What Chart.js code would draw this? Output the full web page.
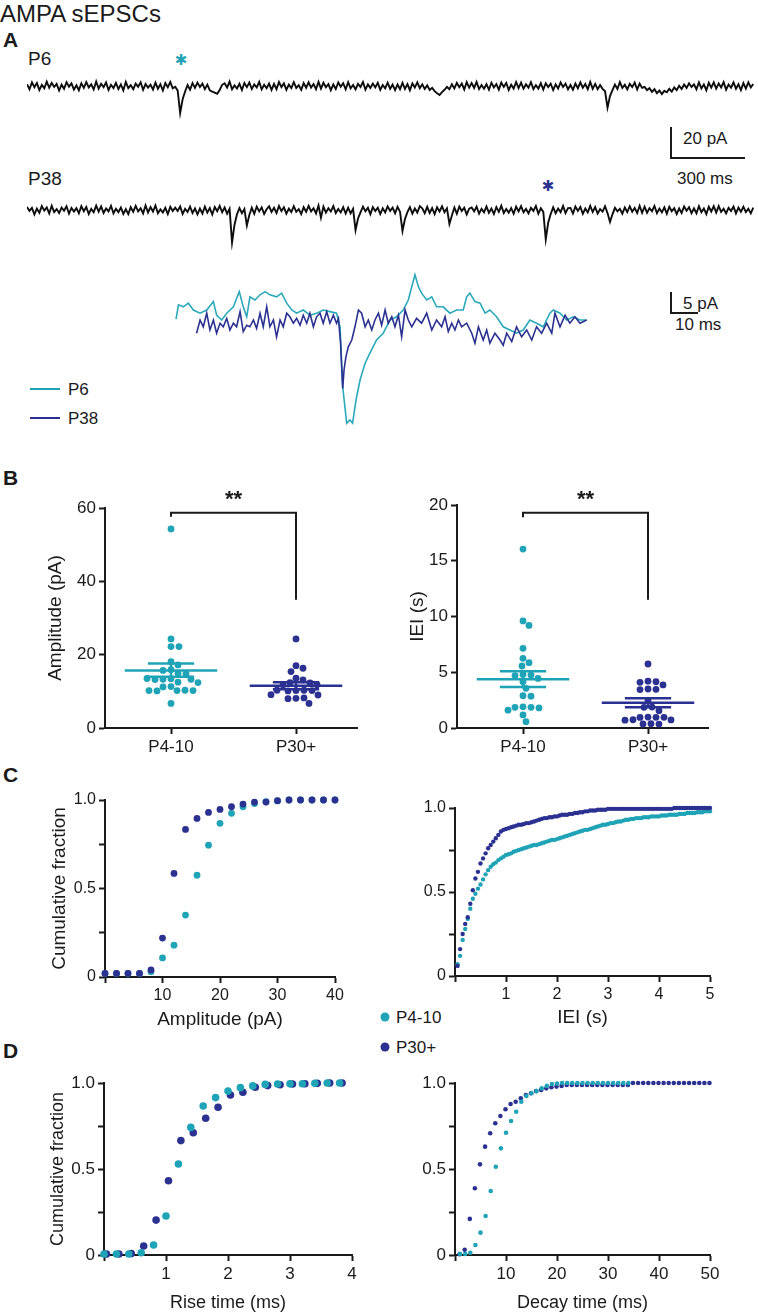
<!DOCTYPE html>
<html>
<head>
<meta charset="utf-8">
<script src="https://cdn.jsdelivr.net/npm/chart.js@4.4.1/dist/chart.umd.min.js"></script>
<style>
  body { margin: 0; background: #fff; font-family: "Liberation Sans", Arial, Helvetica, sans-serif; color: #1a1a1a; }
  #fig { position: relative; width: 758px; height: 1315px; overflow: hidden; background: #fff; }
  .t { position: absolute; line-height: 1; white-space: nowrap; }
  .b { font-weight: bold; }
  .bar { position: absolute; background: #1a1a1a; }
  .star { position: absolute; line-height: 1; font-family: "DejaVu Sans", sans-serif; font-size: 15px; transform: translate(-50%, -50%); }
  .dot { position: absolute; width: 9px; height: 9px; border-radius: 50%; transform: translate(-50%, -50%); }
  canvas { position: absolute; }
</style>
</head>
<body>
<div id="fig">
  <div class="t" style="left:0;top:2px;font-size:24px">AMPA sEPSCs</div>
  <div class="t b" style="left:3px;top:29px;font-size:21px">A</div>
  <div class="t" style="left:28px;top:49px;font-size:19px">P6</div>
  <div class="t" style="left:28px;top:169px;font-size:19px">P38</div>
  <div class="star" style="left:181px;top:60px;color:#1fa3b6">&#x2731;</div>
  <div class="star" style="left:548px;top:186px;color:#2b3190">&#x2731;</div>

  <div class="bar" style="left:670px;top:127px;width:2px;height:32px"></div>
  <div class="bar" style="left:670px;top:157px;width:75px;height:2px"></div>
  <div class="t" style="left:683px;top:130px;font-size:17px">20 pA</div>
  <div class="t" style="left:677px;top:170px;font-size:17px">300 ms</div>

  <div class="bar" style="left:670px;top:292px;width:2px;height:22px"></div>
  <div class="bar" style="left:670px;top:312px;width:28px;height:2px"></div>
  <div class="t" style="left:683px;top:295px;font-size:17px">5 pA</div>
  <div class="t" style="left:675px;top:316px;font-size:17px">10 ms</div>

  <div class="bar" style="left:30px;top:388px;width:30px;height:2px;background:#1fa3b6"></div>
  <div class="t" style="left:68px;top:381px;font-size:17px">P6</div>
  <div class="bar" style="left:30px;top:417px;width:30px;height:2px;background:#2b3190"></div>
  <div class="t" style="left:68px;top:410px;font-size:17px">P38</div>

  <div class="t b" style="left:3px;top:467px;font-size:21px">B</div>
  <div class="t b" style="left:3px;top:764px;font-size:21px">C</div>
  <div class="t b" style="left:3px;top:1040px;font-size:21px">D</div>

  <div class="dot" style="left:385px;top:1017px;background:#1fa3b6"></div>
  <div class="t" style="left:396px;top:1009px;font-size:17px">P4-10</div>
  <div class="dot" style="left:385px;top:1047px;background:#2b3190"></div>
  <div class="t" style="left:396px;top:1039px;font-size:17px">P30+</div>
</div>
<script>
// ---- Panel A: example traces (pA), one sample every 10 ms ----
const longSampleMs = 10;
const p6Long = [
  1.2, -2.1, 2.4, -0.8, 1.9, -2.6, 0.7, -1.5, 2.8, -1.1,
  2.0, -0.6, 1.4, -2.9, 0.9, -1.8, 2.5, -0.4, 1.7, -2.3,
  0.5, -2.7, 1.8, -1.2, 2.6, -0.9, 1.1, -2.2, 2.9, -1.6,
  1.5, -0.7, 2.3, -2.5, 0.8, -1.3, 2.1, -1.9, 1.0, -2.8,
  2.7, -1.4, 0.6, -2.0, 1.6, -0.5, 2.4, -2.4, 1.3, -1.0,
  0.9, -2.3, 2.2, -1.7, 1.2, -2.9, 1.9, -0.8, 2.6, -1.5,
  -0.5, -3.0, -17.4, -8.5, -3.5, 0.6, -2.4, 1.9, -1.2, 2.2,
  -0.6, 1.5, -2.0, 0.9, -2.8, -3.6, -4.2, -5.0, -2.5, 0.8,
  1.8, -1.0, 2.9, -2.1, 0.4, -1.6, 1.4, -2.6, 2.0, -0.7,
  2.3, -1.9, 1.0, -0.9, 2.7, -2.2, 0.8, -1.4, 1.6, -2.5,
  1.4, -2.0, 2.6, -0.7, 1.7, -2.4, 0.9, -1.3, 2.5, -1.2,
  0.6, -2.5, 1.9, -1.1, 2.4, -1.0, 1.3, -2.0, 2.7, -1.7,
  2.1, -0.8, 1.2, -2.7, 1.0, -1.9, 2.3, -0.5, 1.8, -2.1,
  2.5, -1.5, 0.7, -2.2, 1.4, -0.6, 2.6, -2.3, 1.1, -1.2,
  1.6, -0.9, 2.1, -2.4, 0.7, -1.5, 2.2, -1.8, 0.9, -2.6,
  1.0, -2.1, 2.0, -1.9, 1.3, -2.7, 1.7, -1.0, 2.4, -1.4,
  1.1, -1.9, 0.4, -2.6, -1.2, -3.3, -4.6, -5.8, -3.9, -2.4,
  -0.6, -2.1, 1.2, -1.5, 2.0, -0.8, 1.6, -2.2, 2.5, -1.0,
  1.9, -1.2, 2.7, -2.0, 0.6, -1.7, 1.2, -2.4, 2.1, -0.9,
  1.3, -2.3, 2.2, -0.6, 2.0, -2.5, 0.9, -1.6, 2.6, -1.3,
  2.2, -1.7, 1.1, -1.0, 2.5, -2.0, 0.6, -1.6, 1.8, -2.3,
  1.8, -0.7, 1.5, -2.6, 1.1, -1.6, 2.3, -0.6, 1.5, -2.1,
  0.7, -2.4, 1.6, -1.4, 2.4, -1.1, 1.3, -2.0, 2.7, -1.8,
  1.4, -2.0, 0.6, -1.8, -3.4, -14.0, -6.5, -2.7, 0.9, -1.9,
  2.5, -1.2, 0.8, -2.2, 1.4, -0.7, 2.2, -2.2, 1.5, -1.2,
  -0.5, -2.6, -1.4, -3.8, -2.0, -4.6, -2.9, -5.2, -3.1, -4.0,
  -1.8, -3.6, -0.9, -2.7, 0.2, -1.9, 1.0, -1.2, 1.8, -0.6,
  1.1, -2.1, 2.4, -1.5, 1.0, -2.7, 2.1, -1.0, 2.4, -1.7,
  1.7, -0.9, 2.5, -2.3, 1.0, -1.1, 2.3, -1.7, 1.2, -2.6,
  1.9, -1.6, 2.4, -0.9, 1.3
];
const p38Long = [
  2.0, -0.6, 1.4, -2.9, 0.9, -1.8, 2.5, -0.4, 1.7, -2.3,
  2.7, -1.4, 0.6, -2.0, 1.6, -0.5, 2.4, -2.4, 1.3, -1.0,
  1.2, -2.1, 2.4, -0.8, 1.9, -2.6, 0.7, -1.5, 2.8, -1.1,
  2.3, -1.9, 1.0, -0.9, 2.7, -2.2, 0.8, -1.4, 1.6, -2.5,
  0.5, -2.7, 1.8, -1.2, 2.6, -0.9, 1.1, -2.2, 2.9, -1.6,
  1.8, -1.0, 2.9, -2.1, 0.4, -1.6, 1.4, -2.6, 2.0, -0.7,
  1.5, -0.7, 2.3, -2.5, 0.8, -1.3, 2.1, -1.9, 1.0, -2.8,
  0.9, -2.3, 2.2, -1.7, 1.2, -2.9, 1.9, -0.8, 2.6, -1.5,
  1.6, -2.4, 0.8, -21.0, -9.5, -2.8, 1.2, -2.1, 0.6, -10.0,
  -3.2, 1.4, -2.5, 2.2, -0.9, 1.7, -2.6, 0.5, 2.4, -1.3,
  1.4, -2.0, 2.6, -0.7, 1.7, -2.4, 0.9, -1.3, 2.5, -1.2,
  0.5, -2.7, 1.8, -1.2, 2.6, -0.9, 1.1, -2.2, 2.9, -5.0,
  2.2, -1.7, 1.1, -1.0, 2.5, -2.0, 0.6, -1.6, 1.8, -2.3,
  1.5, -2.2, 0.7, -13.0, -5.5, -1.6, 2.1, -0.8, 1.4, -2.7,
  1.8, -0.7, 1.5, -2.6, 1.1, -1.6, 2.3, -0.6, 1.5, -2.1,
  2.0, -1.1, -13.5, -5.8, -1.4, 1.9, -2.3, 0.9, -1.7, 2.5,
  1.0, -2.1, 2.0, -1.9, 1.3, -2.7, 1.7, -1.0, 2.4, -1.4,
  1.1, -9.0, -3.6, 1.6, -2.4, 2.2, -0.7, 1.5, -2.9, 0.8,
  1.6, -0.9, 2.1, -2.4, 0.7, -1.5, 2.2, -1.8, 0.9, -2.6,
  1.9, -1.2, 2.7, -2.0, 0.6, -1.7, 1.2, -2.4, 2.1, -0.9,
  2.5, -1.5, 0.7, -2.2, 1.4, -0.6, 2.6, -2.3, 1.1, -1.2,
  -19.0, -8.0, -2.6, 1.7, -2.1, 0.9, -1.4, 2.6, -2.0, 1.2,
  1.3, -2.3, 2.2, -0.6, 2.0, -2.5, 0.9, -1.6, 2.6, -1.3,
  1.8, -2.3, 0.6, -1.1, 2.4, -2.0, -7.7, -2.8, 1.4, -0.9,
  0.7, -2.4, 1.6, -1.4, 2.4, -1.1, 1.3, -2.0, 2.7, -1.8,
  2.1, -1.8, 1.2, -0.8, 2.6, -2.1, 0.9, -1.5, 1.7, -2.4,
  2.1, -0.8, 1.2, -2.7, 1.0, -1.9, 2.3, -0.5, 1.8, -2.1,
  1.1, -2.1, 2.4, -1.5, 1.0, -2.7, 2.1, -1.0, 2.4, -1.7,
  2.5, -1.2, 0.8, -2.2, 1.4, -0.7, 2.2, -2.2, 1.5, -1.2,
  2.1, -1.4, 0.8, -2.2, 1.5
];
const p6ZoomMs = [0.4, 1.3, 3.1, 5.0, 6.9, 9.4, 11.9, 14.4, 15.6, 17.5, 19.4, 21.9, 24.1, 25.6, 26.9, 28.1, 30.0, 31.9, 33.8, 35.6,
  38.1, 40.0, 41.9, 43.8, 45.6, 48.1, 50.6, 53.1, 55.6, 58.1, 60.6, 61.9, 62.9, 64.4, 65.6, 66.6, 67.9, 69.4, 71.3, 73.1,
  75.6, 78.1, 80.6, 83.1, 85.6, 87.5, 88.8, 90.0, 91.3, 92.5, 94.4, 96.3, 98.1, 100.6, 103.1, 105.6, 108.1, 109.4, 110.6, 112.5,
  114.4, 116.3, 118.1, 120.6, 123.1, 125.6, 128.1, 130.6, 133.1, 135.6, 138.1, 140.6, 141.9, 144.4, 146.9, 149.4, 151.9, 154.4];
const p6ZoomPa = [-2.3, 1.3, 0.8, 1.7, 0, -0.8, 0, 2.1, -1.3, -2.5, -0.8, 0.8, 4.6, 0.8, -1.7, 3.3, 2.5, 3.8, 4.6, 3.8,
  3.3, 4.2, 1.7, 0, -0.8, 0, -1.3, -0.8, 0, -0.4, -0.8, -4.2, -19.2, -28.3, -27.5, -28.3, -22.5, -17.5, -13.3, -10.8,
  -7.5, -5.8, -2.5, -1.7, 0, 2.5, 5.8, 8.8, 5.8, 4.2, 2.5, 3.3, 0.8, 0.8, -0.8, 0, 0, 3.3, 4.2, 2.1,
  1.7, -0.8, 0, -1.7, -4.2, -5, -5.8, -5, -2.5, -3.3, -4.2, -0.8, 0, -0.8, -2.5, -1.7, -2.5, -2.5];
const p38ZoomMs = [8.1, 9.4, 10.6, 11.9, 13.1, 14.4, 15.6, 16.9, 18.1, 19.4, 20.6, 21.9, 23.1, 24.4, 25.6, 26.9, 28.1, 29.4, 30.6, 31.9,
  33.1, 34.4, 35.6, 36.9, 38.1, 39.4, 40.6, 41.9, 43.1, 44.4, 45.6, 46.9, 48.1, 49.4, 50.6, 51.9, 53.1, 54.4, 55.6, 56.9,
  58.1, 59.4, 60.6, 61.3, 62.1, 62.5, 62.9, 63.4, 64.1, 65.0, 66.3, 67.5, 68.8, 70.0, 71.3, 72.5, 73.8, 75.0, 76.3, 77.5,
  78.8, 80.0, 81.3, 82.5, 83.8, 85.0, 86.3, 87.5, 88.8, 90.6, 92.5, 94.4, 96.3, 98.1, 100.0, 101.3, 102.5, 103.8, 105.0, 106.3,
  107.5, 109.4, 111.3, 112.5, 113.8, 115.6, 116.9, 118.1, 120.0, 121.9, 123.1, 124.4, 126.3, 128.1, 130.0, 131.9, 133.8, 135.6, 137.5, 139.4,
  141.3, 142.5, 144.4, 146.3, 148.1, 150.0, 151.9, 154.4];
const p38ZoomPa = [-5.8, -2.5, -4.2, -0.8, -5, -2.5, -5.8, -3.3, -4.2, -2.1, -5, -3.3, -4.2, -0.4, -5.4, -3.8, -4.2, -2.5, -4.6, -0.8,
  -4.2, 0.8, -4.2, -2.5, -6.7, -2.5, -4.2, -0.8, -1.7, -3.3, -2.1, -3.8, -1.3, -3.3, -0.8, -4.2, -1.7, -0.8, -3.3, -0.4,
  -3.3, -1.3, -3.3, -2.1, -8.3, -14.2, -19.6, -15, -11.7, -9.2, -7.5, -4.2, 0, -0.8, -4.2, -2.5, -5, -2.5, -0.8, -3.8,
  0, -3.3, -1.7, -4.2, -1.3, -6.7, 0, -2.5, -4.2, -2.1, -3.3, -0.8, -5, -2.5, -4.2, -1.7, -5.4, -3.3, -5, -2.5,
  -4.2, -3.3, -5.8, -8.3, -4.2, -7.5, -5, -8.3, -5.8, -7.5, -8.8, -5.8, -7.9, -4.2, -6.7, -5, -7.5, -4.2, -5.8, -3.3,
  -5.8, -0.8, -4.2, -1.3, -3.3, -1.7, -3.3, -2.5];

// ---- Panel B: per-cell values ----
const groups = ['P4-10', 'P30+'];
const ampYoung = [54.3, 24.3, 22.2, 22.2, 18.1, 17.2, 15.9, 15.7, 14.9, 14.8, 13.4, 13.3, 13.2, 13.3, 13.5, 12.5, 12.4,
  11.3, 11.2, 10.2, 10.3, 10.1, 10.2, 10.2, 6.7];
const ampOld = [24.3, 17.0, 16.3, 15.4, 13.6, 13.1, 12.4, 12.3, 11.7, 11.8, 10.2, 10.3, 10.1, 10.2, 10.3, 9.0, 9.1,
  8.1, 8.2, 8.0, 6.7];
const ampMean = [15.7, 11.5];
const ampSemHi = [17.6, 12.5];
const ampSemLo = [14.0, 10.6];
const ampBracket = [57.6, 58.7, 35.0];
const ieiYoung = [16.05, 9.6, 9.2, 7.15, 6.25, 5.86, 5.56, 4.8, 4.75, 4.7, 4.45, 4.15, 3.56, 2.9, 2.85, 1.9, 1.85,
  1.85, 1.8, 1.6, 1.17, 0.57];
const ieiOld = [5.74, 4.2, 4.15, 4.1, 3.86, 3.5, 3.47, 3.45, 2.45, 1.88, 1.85, 1.55, 0.98, 0.96, 0.95, 0.96, 0.74,
  0.72, 0.7, 0.38, 0.36, 0.35];
const ieiMean = [4.37, 2.27];
const ieiSemHi = [5.1, 2.66];
const ieiSemLo = [3.67, 1.85];
const ieiBracket = [18.9, 19.3, 11.5];

// ---- Panel C: cumulative distributions ----
const ampBins = [0, 2, 4, 6, 8, 10, 12, 14, 16, 18, 20, 22, 24, 26, 28, 30, 32, 34, 36, 38, 40];
const ampCdfYoung = [0.02, 0.02, 0.02, 0.02, 0.03, 0.108, 0.18, 0.35, 0.575, 0.745, 0.868, 0.925, 0.962, 0.98, 0.99,
  0.995, 1, 1, 1, 1, 1];
const ampCdfOld = [0.02, 0.02, 0.02, 0.02, 0.04, 0.22, 0.585, 0.834, 0.896, 0.93, 0.947, 0.962, 0.977, 0.988, 0.988,
  0.996, 1, 1, 1, 1, 1];
const ieiBins = [
  0.05, 0.10, 0.15, 0.20, 0.25, 0.30, 0.35, 0.40, 0.45, 0.50,
  0.55, 0.60, 0.65, 0.70, 0.75, 0.80, 0.85, 0.90, 0.95, 1.00,
  1.05, 1.10, 1.15, 1.20, 1.25, 1.30, 1.35, 1.40, 1.45, 1.50,
  1.55, 1.60, 1.65, 1.70, 1.75, 1.80, 1.85, 1.90, 1.95, 2.00,
  2.05, 2.10, 2.15, 2.20, 2.25, 2.30, 2.35, 2.40, 2.45, 2.50,
  2.55, 2.60, 2.65, 2.70, 2.75, 2.80, 2.85, 2.90, 2.95, 3.00,
  3.05, 3.10, 3.15, 3.20, 3.25, 3.30, 3.35, 3.40, 3.45, 3.50,
  3.55, 3.60, 3.65, 3.70, 3.75, 3.80, 3.85, 3.90, 3.95, 4.00,
  4.05, 4.10, 4.15, 4.20, 4.25, 4.30, 4.35, 4.40, 4.45, 4.50,
  4.55, 4.60, 4.65, 4.70, 4.75, 4.80, 4.85, 4.90, 4.95, 5.00
];
const ieiCdfYoung = [
  0.07, 0.12, 0.215, 0.28, 0.34, 0.40, 0.46, 0.49, 0.52, 0.545,
  0.575, 0.605, 0.63, 0.65, 0.665, 0.675, 0.69, 0.70, 0.71, 0.72,
  0.725, 0.73, 0.74, 0.745, 0.75, 0.755, 0.76, 0.765, 0.77, 0.775,
  0.78, 0.78, 0.785, 0.79, 0.795, 0.80, 0.805, 0.81, 0.81, 0.815,
  0.82, 0.825, 0.83, 0.835, 0.84, 0.845, 0.85, 0.855, 0.86, 0.865,
  0.87, 0.87, 0.875, 0.88, 0.885, 0.89, 0.895, 0.90, 0.90, 0.905,
  0.91, 0.91, 0.915, 0.92, 0.92, 0.925, 0.93, 0.93, 0.935, 0.935,
  0.94, 0.94, 0.94, 0.945, 0.945, 0.945, 0.95, 0.95, 0.95, 0.95,
  0.955, 0.955, 0.955, 0.96, 0.96, 0.96, 0.96, 0.965, 0.965, 0.965,
  0.97, 0.97, 0.97, 0.97, 0.975, 0.975, 0.975, 0.98, 0.98, 0.98
];
const ieiCdfOld = [
  0.06, 0.16, 0.25, 0.31, 0.35, 0.43, 0.51, 0.58, 0.62, 0.67,
  0.70, 0.73, 0.76, 0.78, 0.80, 0.82, 0.84, 0.86, 0.87, 0.875,
  0.88, 0.885, 0.89, 0.895, 0.90, 0.90, 0.905, 0.91, 0.91, 0.915,
  0.92, 0.925, 0.93, 0.935, 0.94, 0.94, 0.945, 0.945, 0.95, 0.95,
  0.955, 0.96, 0.96, 0.96, 0.965, 0.965, 0.97, 0.97, 0.975, 0.975,
  0.98, 0.98, 0.985, 0.985, 0.985, 0.99, 0.99, 0.99, 0.99, 0.995,
  0.995, 0.995, 0.995, 0.995, 0.995, 0.995, 0.995, 0.995, 0.995, 0.995,
  0.995, 0.995, 0.995, 0.995, 0.995, 0.995, 0.995, 0.995, 0.995, 0.995,
  0.995, 0.995, 0.995, 0.995, 0.995, 1, 1, 1, 1, 1,
  1, 1, 1, 1, 1, 1, 1, 1, 1, 1
];

// ---- Panel D: kinetics cumulative distributions ----
const riseBinsYoung = [0.0, 0.2, 0.4, 0.6, 0.8, 1.0, 1.2, 1.4, 1.6, 1.8, 2.0, 2.2, 2.4, 2.6, 2.8, 3.0, 3.2, 3.4, 3.6, 3.8];
const riseCdfYoung = [0.006, 0.006, 0.006, 0.013, 0.058, 0.227, 0.529, 0.742, 0.866, 0.915, 0.953, 0.973, 0.983, 0.992,
  0.994, 0.995, 0.996, 0.998, 1, 1];
const riseBinsOld = [0.04, 0.24, 0.44, 0.64, 0.84, 1.04, 1.24, 1.44, 1.64, 1.84, 2.04, 2.24, 2.44, 2.64, 2.84, 3.04, 3.24, 3.44, 3.64, 3.84];
const riseCdfOld = [0.006, 0.006, 0.008, 0.052, 0.203, 0.432, 0.665, 0.711, 0.795, 0.859, 0.93, 0.946, 0.975, 0.985,
  0.99, 0.994, 0.996, 0.998, 1, 1];
const decayBinsYoung = [1, 2, 3, 4, 5, 6, 7, 8, 9, 10, 11, 12, 13, 14, 15, 16, 17, 18, 19, 20, 21, 22, 23, 24, 25, 26, 27, 28, 29, 30, 31, 32, 33, 34];
const decayCdfYoung = [0.006, 0.006, 0.013, 0.058, 0.13, 0.227, 0.372, 0.513, 0.62, 0.711, 0.779, 0.833, 0.891, 0.924,
  0.94, 0.953, 0.969, 0.983, 0.994, 0.997, 1, 1, 1, 1, 1, 1, 1, 1, 1, 1, 1, 1, 1, 1];
const decayBinsOld = [0.9, 1.9, 2.9, 3.9, 4.9, 5.9, 6.9, 7.9, 8.9, 9.9, 10.9, 11.9, 12.9, 13.9, 14.9, 15.9, 16.9, 17.9,
  18.9, 19.9, 20.9, 21.9, 22.9, 23.9, 24.9, 25.9, 26.9, 27.9, 28.9, 29.9, 30.9, 31.9, 32.9, 33.9, 34.9, 35.9, 36.9, 37.9,
  38.9, 39.9, 40.9, 41.9, 42.9, 43.9, 44.9, 45.9, 46.9, 47.9, 48.9, 49.9, 50.9];
const decayCdfOld = [0.005, 0.03, 0.21, 0.388, 0.527, 0.63, 0.708, 0.766, 0.808, 0.847, 0.878, 0.891, 0.911, 0.93,
  0.94, 0.953, 0.96, 0.969, 0.975, 0.979, 0.983, 0.988, 0.988, 0.988, 0.988, 0.988, 0.988, 0.988, 0.988, 0.988, 0.988,
  0.988, 0.988, 0.988, 1, 1, 1, 1, 1, 1, 1, 1, 1, 1, 1, 1, 1, 1, 1, 1, 1];

const cdfTicks = [0, 0.25, 0.5, 0.75, 1];
const cdfLabels = ['0', '', '0.5', '', '1.0'];

// ---- drawing ----
const FONT = '"Liberation Sans", Arial, Helvetica, sans-serif';
const INK = '#1a1a1a';
const CYAN = '#1fa3b6';
const NAVY = '#2b3190';
Chart.defaults.font.family = FONT;
Chart.defaults.color = INK;

const fig = document.getElementById('fig');

// place a canvas so that the chart area lands on the given box
function placeChart(area, pad, config) {
  const left = Math.round(area.l - pad.l);
  const top = Math.round(area.t - pad.t);
  const right = Math.round(area.r + pad.r);
  const bottom = Math.round(area.b + pad.b);
  const canvas = document.createElement('canvas');
  canvas.width = right - left;
  canvas.height = bottom - top;
  canvas.style.left = left + 'px';
  canvas.style.top = top + 'px';
  canvas.style.width = (right - left) + 'px';
  canvas.style.height = (bottom - top) + 'px';
  fig.appendChild(canvas);
  const o = config.options;
  o.responsive = false;
  o.animation = false;
  o.events = [];
  o.layout = { padding: { left: 0, top: area.t - top, right: right - area.r, bottom: 0 } };
  if (o.scales.x.display !== false) o.scales.x.afterFit = (s) => { s.height = bottom - area.b; };
  if (o.scales.y.display !== false) o.scales.y.afterFit = (s) => { s.width = area.l - left; };
  o.plugins = Object.assign({ legend: { display: false }, tooltip: { enabled: false } }, o.plugins || {});
  return new Chart(canvas, config);
}

function axis(a) {
  return {
    type: 'linear',
    position: a.position,
    min: a.min,
    max: a.max,
    border: { display: true, color: INK, width: 2 },
    grid: { display: true, drawOnChartArea: false, drawTicks: true, tickLength: 6, tickWidth: 2, color: INK },
    afterBuildTicks: (s) => { s.ticks = a.ticks.map((v) => ({ value: v })); },
    ticks: {
      autoSkip: false,
      maxRotation: 0,
      padding: 3,
      color: INK,
      font: { family: FONT, size: a.size },
      callback: (v) => { const i = a.ticks.indexOf(v); return i < 0 ? '' : a.labels[i]; },
    },
    title: a.title
      ? { display: true, text: a.title, color: INK, font: { family: FONT, size: a.titleSize }, padding: 0 }
      : { display: false },
  };
}

function traceChart(area, series, xr, yr) {
  return placeChart(area, { l: 0, t: 0, r: 0, b: 0 }, {
    type: 'scatter',
    data: {
      datasets: series.map((s) => ({
        data: s.x.map((x, i) => ({ x, y: s.y[i] })),
        showLine: true, borderColor: s.color, borderWidth: s.width, pointRadius: 0, clip: false,
      })),
    },
    options: { scales: { x: { display: false, min: xr[0], max: xr[1] }, y: { display: false, min: yr[0], max: yr[1] } } },
  });
}

// Panel A
const longTimes = p6Long.map((_, i) => i * longSampleMs);
traceChart({ l: 27, r: 755, t: 60, b: 122 }, [{ x: longTimes, y: p6Long, color: '#0d0d0d', width: 1.9 }], [0, 2947], [-23.2, 16.8]);
traceChart({ l: 27, r: 755, t: 185, b: 250 }, [{ x: longTimes, y: p38Long, color: '#0d0d0d', width: 1.9 }], [0, 2947], [-25.8, 16.1]);
traceChart({ l: 170, r: 600, t: 265, b: 435 }, [
  { x: p38ZoomMs, y: p38ZoomPa, color: NAVY, width: 1.6 },
  { x: p6ZoomMs, y: p6ZoomPa, color: '#2aa9ba', width: 1.6 },
], [-1.875, 159.4], [-31.25, 11.25]);

// Panel B
const starsPlugin = {
  id: 'stars',
  afterDatasetsDraw(chart, args, opts) {
    const { ctx, scales } = chart;
    ctx.save();
    ctx.font = 'bold 22px ' + FONT;
    ctx.fillStyle = INK;
    ctx.textAlign = 'center';
    ctx.fillText(opts.text, scales.x.getPixelForValue(1.5), scales.y.getPixelForValue(opts.y) - 7);
    ctx.restore();
  },
};

// simple bee-swarm: nudge each dot sideways until it no longer overlaps
function swarm(chart, values, center, gap) {
  const xs = chart.scales.x;
  const ys = chart.scales.y;
  const pxPerUnit = xs.getPixelForValue(center + 1) - xs.getPixelForValue(center);
  const placed = [];
  return values.map((v) => {
    const py = ys.getPixelForValue(v);
    let off = 0;
    for (let k = 0; k < 400; k++) {
      const cand = k === 0 ? 0 : (k % 2 ? 1 : -1) * Math.ceil(k / 2);
      if (placed.every((p) => Math.hypot(p.x - cand, p.y - py) >= gap)) { off = cand; break; }
    }
    placed.push({ x: off, y: py });
    return { x: center + off / pxPerUnit, y: v };
  });
}

function groupChart(area, pad, xMax, values, mean, hi, lo, bracket, yAxis) {
  const datasets = [];
  [0, 1].forEach((g) => {
    const c = g + 1;
    const color = g ? NAVY : CYAN;
    const seg = (x0, x1, y0, y1) => datasets.push({
      data: [{ x: x0, y: y0 }, { x: x1, y: y1 }],
      showLine: true, borderColor: color, borderWidth: 2.5, pointRadius: 0, clip: false,
    });
    seg(c - 0.37, c + 0.37, mean[g], mean[g]);
    seg(c - 0.185, c + 0.185, hi[g], hi[g]);
    seg(c - 0.185, c + 0.185, lo[g], lo[g]);
    seg(c, c, lo[g], hi[g]);
  });
  datasets.push({
    data: [{ x: 1, y: bracket[0] }, { x: 1, y: bracket[1] }, { x: 2, y: bracket[1] }, { x: 2, y: bracket[2] }],
    showLine: true, borderColor: INK, borderWidth: 2, pointRadius: 0, clip: false,
  });
  const first = datasets.length;
  values.forEach((vals, g) => datasets.push({
    data: vals.map((v) => ({ x: g + 1, y: v })),
    backgroundColor: g ? NAVY : CYAN, pointRadius: 3.4, pointBorderWidth: 0, clip: false,
  }));
  const chart = placeChart(area, pad, {
    type: 'scatter',
    data: { datasets },
    options: {
      scales: {
        x: axis({ position: 'bottom', min: 0.472, max: xMax, ticks: [1, 2], labels: groups, size: 17 }),
        y: axis(yAxis),
      },
      plugins: { stars: { text: '**', y: bracket[1] } },
    },
    plugins: [starsPlugin],
  });
  values.forEach((vals, g) => { chart.data.datasets[first + g].data = swarm(chart, vals, g + 1, 7.2); });
  chart.update();
  return chart;
}

groupChart({ l: 105, r: 357, t: 508, b: 728 }, { l: 61, t: 42, r: 15, b: 40 }, 2.488,
  [ampYoung, ampOld], ampMean, ampSemHi, ampSemLo, ampBracket,
  { position: 'left', min: 0, max: 60, ticks: [0, 20, 40, 60], labels: ['0', '20', '40', '60'], size: 17,
    title: 'Amplitude (pA)', titleSize: 19 });
groupChart({ l: 457, r: 708, t: 505, b: 728 }, { l: 51, t: 40, r: 15, b: 40 }, 2.48,
  [ieiYoung, ieiOld], ieiMean, ieiSemHi, ieiSemLo, ieiBracket,
  { position: 'left', min: 0, max: 20, ticks: [0, 5, 10, 15, 20], labels: ['0', '5', '10', '15', '20'], size: 17,
    title: 'IEI (s)', titleSize: 19 });

// Panels C and D
function cdfChart(area, pad, series, xAxis, yTitle, fontSize, titleSize) {
  return placeChart(area, pad, {
    type: 'scatter',
    data: {
      datasets: series.map((s) => ({
        data: s.x.map((x, i) => ({ x, y: s.y[i] })),
        backgroundColor: s.color, pointRadius: s.r, pointBorderWidth: 0, clip: false,
      })),
    },
    options: {
      scales: {
        x: axis(Object.assign({ position: 'bottom', size: fontSize, titleSize }, xAxis)),
        y: axis({ position: 'left', min: 0, max: 1, ticks: cdfTicks, labels: cdfLabels, size: fontSize,
          title: yTitle, titleSize }),
      },
    },
  });
}

cdfChart({ l: 105, r: 335, t: 800, b: 977 }, { l: 57.4, t: 20, r: 15, b: 54.4 }, [
  { x: ampBins, y: ampCdfOld, color: NAVY, r: 3.4 },
  { x: ampBins, y: ampCdfYoung, color: CYAN, r: 3.4 },
], { min: 0, max: 40, ticks: [0, 10, 20, 30, 40], labels: ['', '10', '20', '30', '40'], title: 'Amplitude (pA)' },
'Cumulative fraction', 16, 19);

cdfChart({ l: 455, r: 710, t: 808, b: 976 }, { l: 50, t: 20, r: 15, b: 53.4 }, [
  { x: ieiBins, y: ieiCdfOld, color: NAVY, r: 2.2 },
  { x: ieiBins, y: ieiCdfYoung, color: CYAN, r: 2.2 },
], { min: 0, max: 5, ticks: [0, 1, 2, 3, 4, 5], labels: ['', '1', '2', '3', '4', '5'], title: 'IEI (s)' },
null, 16, 19);

cdfChart({ l: 104, r: 352, t: 1083, b: 1255 }, { l: 56.8, t: 20, r: 15, b: 58.8 }, [
  { x: riseBinsYoung, y: riseCdfYoung, color: CYAN, r: 3.8 },
  { x: riseBinsOld, y: riseCdfOld, color: NAVY, r: 3.8 },
], { min: 0, max: 4, ticks: [0, 1, 2, 3, 4], labels: ['', '1', '2', '3', '4'], title: 'Rise time (ms)' },
'Cumulative fraction', 17, 18);

cdfChart({ l: 455, r: 710, t: 1083, b: 1255 }, { l: 50, t: 20, r: 15, b: 58.8 }, [
  { x: decayBinsYoung, y: decayCdfYoung, color: CYAN, r: 2.3 },
  { x: decayBinsOld, y: decayCdfOld, color: NAVY, r: 2.3 },
], { min: 0, max: 50, ticks: [0, 10, 20, 30, 40, 50], labels: ['', '10', '20', '30', '40', '50'], title: 'Decay time (ms)' },
null, 17, 18);
</script>
</body>
</html>
